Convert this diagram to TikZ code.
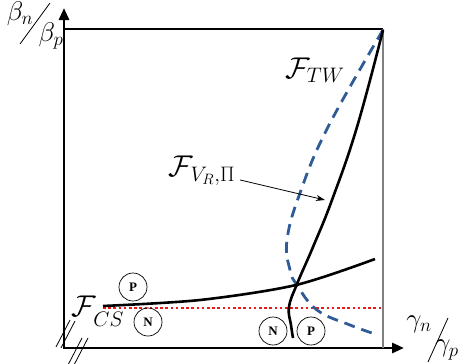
\documentclass[tikz,border=0pt]{standalone}
\usepackage{fix-cm}
\usepackage{amsmath, amssymb}
\usepackage{fontspec}
\setmainfont{Liberation Serif}
\usepackage{tikz}
\usetikzlibrary{arrows.meta}

\definecolor{dashblue}{RGB}{47,91,150}
\definecolor{dotred}{RGB}{235,25,25}

\begin{document}
\begin{tikzpicture}[x=1pt,y=-1pt,
  region/.style={circle, draw, line width=0.7pt, minimum size=28pt, inner sep=0pt,
    font=\fontsize{13}{14}\selectfont\bfseries},
  curvelabel/.style={inner sep=1pt, font=\fontsize{30}{34}\selectfont},
  axislabel/.style={inner sep=0pt, font=\fontsize{27}{30}\selectfont}]

\useasboundingbox (0,0) rectangle (458,364);

% axes
\draw[line width=2.8pt, {Triangle[length=12pt,width=10pt]}-{Triangle[length=12pt,width=10pt]}]
  (64,8) -- (64,348) -- (404,348);

% frame (top and right)
\draw[line width=1.1pt] (64,29) -- (383,29);
\draw[gray, line width=1.5pt] (383,29) -- (383,348);

% axis breaks
\draw[line width=0.8pt] (70,320) -- (56,347);
\draw[line width=0.8pt] (75,321) -- (61,348);
\draw[line width=0.8pt] (82,338) -- (68,365);
\draw[line width=0.8pt] (88,338) -- (74,365);

% threshold line
\draw[dotred, line width=2.5pt, dash pattern=on 2.6pt off 2.6pt] (103,308) -- (383,308);

% V_R,Pi curve (dashed)
\draw[dashblue, line width=2.8pt, dash pattern=on 11pt off 7pt]
  plot[smooth, tension=0.7] coordinates {(383,30) (328,127) (300,193) (287,240) (290,270)
    (297,285) (317,310) (350,325) (378,335)};

% TW curve
\draw[line width=2.6pt]
  plot[smooth, tension=0.7] coordinates {(383,30) (357,127) (332,200) (313,247) (297,284)
    (289,307) (291,325) (293,338)};

% CS curve
\draw[line width=2.6pt]
  plot[smooth] coordinates {(103,306) (200,300) (296,285) (375,259)};

% curve labels
\node[curvelabel] (ftw) at (315,70) {$\mathcal{F}_{TW}$};
\node[curvelabel] (fvr) at (202,171) {$\mathcal{F}_{V_R,\Pi}$};
\node[curvelabel] (fcs) at (98,311) {$\mathcal{F}_{\lower5pt\hbox{$\scriptstyle CS$}}$};

\coordinate (vrtip) at (325,200);
\draw[line width=0.8pt, -{Stealth[length=9pt,width=6pt]}, shorten <=4pt] (fvr) -- (vrtip);

% regions
\node[region] (p1) at (133,287) {P};
\node[region] (n1) at (148,322) {N};
\node[region] (n2) at (273,331) {N};
\node[region] (p2) at (311,331) {P};

% axis labels
\node[axislabel] (bn) at (20,14) {$\beta_n$};
\node[axislabel] (bp) at (51,36) {$\beta_p$};
\draw[line width=0.8pt] (50,3) -- (20,44);
\node[axislabel] (gn) at (419,324) {$\gamma_n$};
\node[axislabel] (gp) at (447,350) {$\gamma_p$};
\draw[line width=0.8pt] (448,318) -- (428,362);

\end{tikzpicture}
\end{document}
